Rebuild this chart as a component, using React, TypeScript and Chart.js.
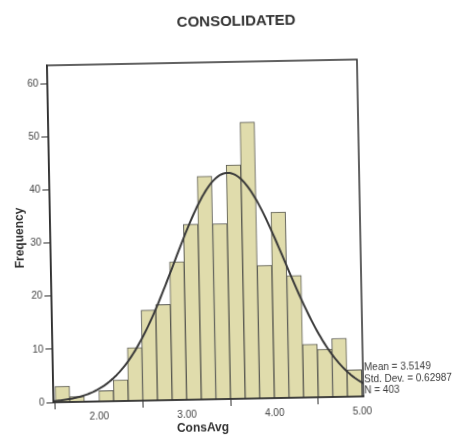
import { useEffect, useRef } from "react";
import { Chart, registerables } from "chart.js";

Chart.register(...registerables);

// Histogram of ConsAvg with a fitted normal curve
const chartTitle = "CONSOLIDATED";
const xTitle = "ConsAvg";
const yTitle = "Frequency";

// bins of width 1/6 starting at 1.5
const binStart = 1.5;
const binWidth = 1 / 6;
const frequencies = [3, 1, 0, 2, 4, 10, 17, 18, 26, 33, 42, 33, 44, 52, 25, 35, 23, 10, 9, 11, 5];

const xTickValues = [2, 3, 4, 5];
const yTickValues = [0, 10, 20, 30, 40, 50, 60];

const mean = 3.5149;
const stdDev = 0.62987;
const sampleSize = 403;
const statLines = [`Mean = ${mean}`, `Std. Dev. = ${stdDev}`, `N = ${sampleSize}`];

const xMin = 1.48;
const xMax = 5.015;
const yMax = 63.4;

const FONT = "'Liberation Sans', Arial, sans-serif";
const INK = "#2f2f2f";

// bar table: one bar per bin, centred on the bin midpoint
const barData = frequencies.map((f, i) => ({ x: binStart + (i + 0.5) * binWidth, y: f }));

// normal density scaled to counts per bin, from the stated mean, SD and N
const normalCurve = (() => {
  const pts: { x: number; y: number }[] = [];
  const scale = (sampleSize * binWidth) / (stdDev * Math.sqrt(2 * Math.PI));
  for (let x = 1.44; x <= 5.06; x += 0.02) {
    const z = (x - mean) / stdDev;
    pts.push({ x, y: scale * Math.exp(-0.5 * z * z) });
  }
  return pts;
})();

const decorations = {
  id: "frameAndLabels",
  afterDatasetsDraw(chart: any) {
    const { ctx, chartArea: a } = chart;
    ctx.save();
    ctx.strokeStyle = INK;
    ctx.lineWidth = 1.5;
    ctx.strokeRect(a.left, a.top, a.right - a.left, a.bottom - a.top);

    ctx.fillStyle = "#333333";
    ctx.textBaseline = "middle";
    ctx.textAlign = "center";
    ctx.font = `bold 15px ${FONT}`;
    ctx.fillText(chartTitle, 240, 22);

    ctx.font = `bold 12px ${FONT}`;
    ctx.fillText(xTitle, 199, 428);

    ctx.save();
    ctx.translate(20, 234);
    ctx.rotate(-Math.PI / 2);
    ctx.fillText(yTitle, 0, 0);
    ctx.restore();

    ctx.textAlign = "left";
    ctx.font = `10px ${FONT}`;
    ctx.fillStyle = "#3a3a3a";
    statLines.forEach((line, i) => ctx.fillText(line, 361, 370.5 + i * 11.6));
    ctx.restore();
  },
};

export default function App() {
  const canvasRef = useRef<HTMLCanvasElement | null>(null);

  useEffect(() => {
    if (!canvasRef.current) return;
    const chart = new Chart(canvasRef.current, {
      type: "bar",
      data: {
        datasets: [
          {
            type: "line",
            data: normalCurve,
            borderColor: "#3a3a3a",
            borderWidth: 2,
            pointRadius: 0,
            tension: 0,
            fill: false,
            order: 1,
          } as any,
          {
            type: "bar",
            data: barData,
            backgroundColor: "rgb(224, 220, 172)",
            borderColor: "#5a5a52",
            borderWidth: 1,
            barPercentage: 1,
            categoryPercentage: 1,
            order: 2,
          } as any,
        ],
      },
      options: {
        responsive: false,
        devicePixelRatio: 1,
        animation: false,
        layout: { padding: { top: 62, right: 94, left: 0, bottom: 0 } },
        plugins: {
          legend: { display: false },
          title: { display: false },
          tooltip: { enabled: false },
        },
        scales: {
          x: {
            type: "linear",
            min: xMin,
            max: xMax,
            offset: false,
            afterBuildTicks: (scale: any) => {
              scale.ticks = xTickValues.map((v) => ({ value: v }));
            },
            afterFit: (scale: any) => {
              scale.height = 40;
            },
            ticks: {
              callback: (v: any) => Number(v).toFixed(2),
              font: { family: FONT, size: 10 },
              color: "#444444",
              padding: 2,
              maxRotation: 0,
            },
            grid: { display: true, drawOnChartArea: false, drawTicks: true, tickLength: 7, color: INK },
            border: { display: true, color: INK, width: 1.5 },
          },
          y: {
            type: "linear",
            min: 0,
            max: yMax,
            afterBuildTicks: (scale: any) => {
              scale.ticks = yTickValues.map((v) => ({ value: v }));
            },
            afterFit: (scale: any) => {
              scale.width = 50;
            },
            ticks: {
              font: { family: FONT, size: 10 },
              color: "#444444",
              padding: 2,
            },
            grid: { display: true, drawOnChartArea: false, drawTicks: true, tickLength: 7, color: INK },
            border: { display: true, color: INK, width: 1.5 },
          },
        },
      } as any,
      plugins: [decorations],
    });
    return () => chart.destroy();
  }, []);

  return (
    <div
      style={{
        position: "fixed",
        left: 0,
        top: 0,
        width: 454,
        height: 439,
        overflow: "hidden",
        background: "#ffffff",
      }}
    >
      <canvas
        ref={canvasRef}
        width={454}
        height={439}
        style={{ position: "absolute", left: 0, top: 0, transform: "rotate(-1.1deg)", transformOrigin: "227px 220px" }}
      />
    </div>
  );
}
